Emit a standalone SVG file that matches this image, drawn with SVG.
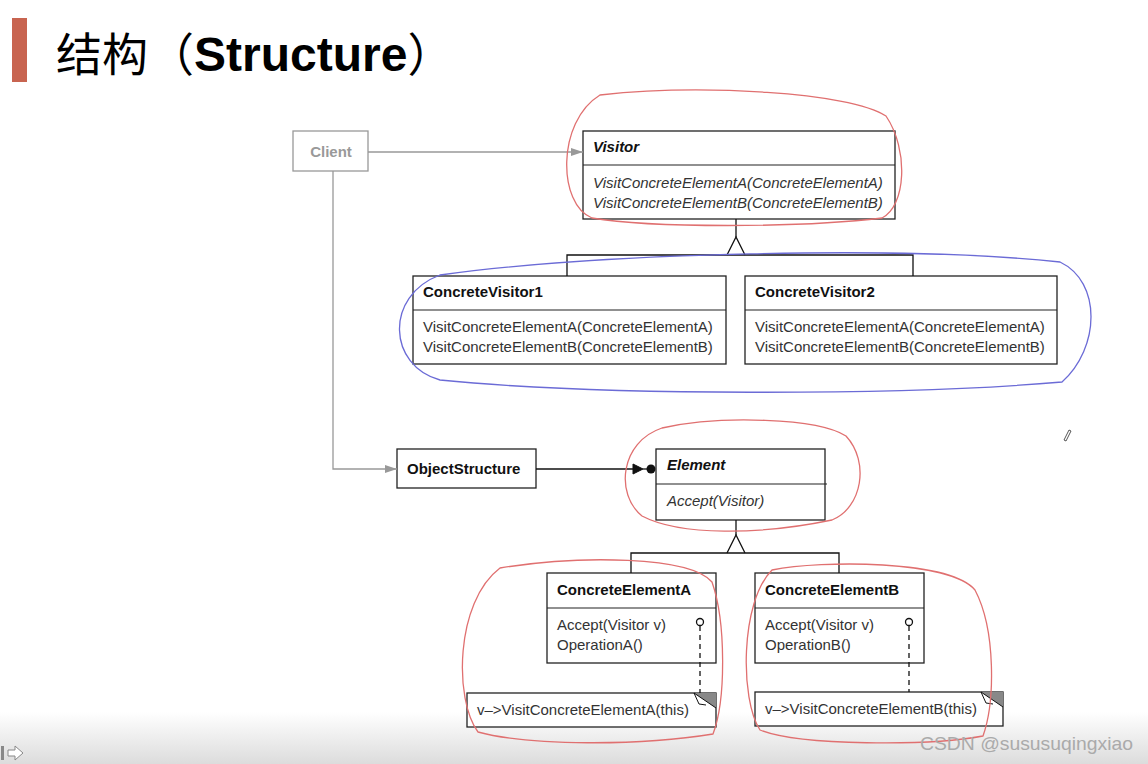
<svg xmlns="http://www.w3.org/2000/svg" width="1148" height="764" viewBox="0 0 1148 764">
<defs>
<linearGradient id="bot" x1="0" y1="0" x2="0" y2="1">
<stop offset="0" stop-color="#ffffff"/>
<stop offset="1" stop-color="#dcdcdc"/>
</linearGradient>
<marker id="grayArrow" markerWidth="12" markerHeight="10" refX="12" refY="5" orient="auto" markerUnits="userSpaceOnUse">
<path d="M0,1 L12,5 L0,9 Z" fill="#999"/>
</marker>
</defs>
<style>
.box{fill:#fff;stroke:#222;stroke-width:1.3}
.div{stroke:#222;stroke-width:1.2}
.t{font-family:"Liberation Sans",Arial,sans-serif;font-size:15px;fill:#333}
.b{font-weight:bold;fill:#111}
.i{font-style:italic}
.ln{stroke:#111;stroke-width:1.3;fill:none}
.gl{stroke:#999;stroke-width:1.3;fill:none}
.red{fill:none;stroke:#e07070;stroke-width:1.3}
.blue{fill:none;stroke:#6b6bd6;stroke-width:1.3}
</style>
<rect width="1148" height="764" fill="#fff"/>
<rect x="0" y="712" width="1148" height="52" fill="url(#bot)"/>

<g id="title">
<rect x="12" y="18" width="15" height="64" fill="#c86450"/>
<text x="56" y="71" font-size="46" fill="#000" font-family="'Noto Sans CJK SC',sans-serif">结构（<tspan font-family="'Liberation Sans',Arial,sans-serif" font-weight="bold" font-size="48">Structure</tspan>）</text>
</g>

<g id="client">
<rect x="293" y="131" width="75" height="40" fill="#fff" stroke="#999" stroke-width="1.3"/>
<text x="331" y="157" class="t" text-anchor="middle" style="fill:#999;font-weight:bold">Client</text>
</g>

<g id="visitor">
<rect class="box" x="583" y="131" width="312" height="88"/>
<line class="div" x1="583" y1="165" x2="895" y2="165"/>
<text class="t b i" x="593" y="152">Visitor</text>
<text class="t i" x="593" y="188">VisitConcreteElementA(ConcreteElementA)</text>
<text class="t i" x="593" y="208">VisitConcreteElementB(ConcreteElementB)</text>
</g>

<g id="concreteVisitor1">
<rect class="box" x="413" y="276" width="313" height="88"/>
<line class="div" x1="413" y1="310" x2="726" y2="310"/>
<text class="t b" x="423" y="297">ConcreteVisitor1</text>
<text class="t" x="423" y="332">VisitConcreteElementA(ConcreteElementA)</text>
<text class="t" x="423" y="352">VisitConcreteElementB(ConcreteElementB)</text>
</g>

<g id="concreteVisitor2">
<rect class="box" x="745" y="276" width="312" height="88"/>
<line class="div" x1="745" y1="310" x2="1057" y2="310"/>
<text class="t b" x="755" y="297">ConcreteVisitor2</text>
<text class="t" x="755" y="332">VisitConcreteElementA(ConcreteElementA)</text>
<text class="t" x="755" y="352">VisitConcreteElementB(ConcreteElementB)</text>
</g>

<g id="objectStructure">
<rect class="box" x="397" y="449" width="139" height="39"/>
<text class="t b" x="407" y="474">ObjectStructure</text>
</g>

<g id="element">
<rect class="box" x="656" y="449" width="169" height="71"/>
<line class="div" x1="656" y1="484" x2="827" y2="484"/>
<text class="t b i" x="667" y="470">Element</text>
<text class="t i" x="667" y="506">Accept(Visitor)</text>
</g>

<g id="concreteElementA">
<rect class="box" x="547" y="573" width="169" height="90"/>
<line class="div" x1="547" y1="608" x2="716" y2="608"/>
<text class="t b" x="557" y="595">ConcreteElementA</text>
<text class="t" x="557" y="630">Accept(Visitor v)</text>
<text class="t" x="557" y="650">OperationA()</text>
</g>

<g id="concreteElementB">
<rect class="box" x="755" y="573" width="169" height="90"/>
<line class="div" x1="755" y1="608" x2="924" y2="608"/>
<text class="t b" x="765" y="595">ConcreteElementB</text>
<text class="t" x="765" y="630">Accept(Visitor v)</text>
<text class="t" x="765" y="650">OperationB()</text>
</g>

<g id="noteA">
<rect class="box" x="467" y="693" width="249" height="34"/>
<path d="M694,693 L716,693 L716,708 Z" fill="#888"/>
<path d="M694,693 L716,708 M694,693 L699,704 L706,705" stroke="#111" stroke-width="1" fill="none"/>
<text class="t" x="477" y="715">v–&gt;VisitConcreteElementA(this)</text>
</g>

<g id="noteB">
<rect class="box" x="755" y="692" width="248" height="34"/>
<path d="M981,692 L1003,692 L1003,707 Z" fill="#888"/>
<path d="M981,692 L1003,707 M981,692 L986,703 L993,704" stroke="#111" stroke-width="1" fill="none"/>
<text class="t" x="765" y="714">v–&gt;VisitConcreteElementB(this)</text>
</g>

<g id="connectors">
<path class="gl" d="M368,152 H583" marker-end="url(#grayArrow)"/>
<path class="gl" d="M333,171 V469 H397" marker-end="url(#grayArrow)"/>
<path class="ln" d="M736,219 V237"/>
<path class="ln" d="M727,255 L736,237 L745,255"/>
<path class="ln" d="M567,276 V255 H913 V276"/>
<path class="ln" d="M536,469 H634"/>
<path d="M633,464 L643,469 L633,474 Z" fill="#111" stroke="#111"/>
<path class="ln" d="M643,469 H650"/>
<circle cx="651" cy="469" r="4.5" fill="#111"/>
<path class="ln" d="M736,520 V535"/>
<path class="ln" d="M727,553 L736,535 L745,553"/>
<path class="ln" d="M631,573 V553 H839 V573"/>
<circle cx="700" cy="622" r="3.5" fill="#fff" stroke="#111" stroke-width="1.3"/>
<path class="ln" d="M700,626 V693" stroke-dasharray="5,4"/>
<circle cx="909" cy="622" r="3.5" fill="#fff" stroke="#111" stroke-width="1.3"/>
<path class="ln" d="M909,626 V692" stroke-dasharray="5,4"/>
</g>

<g id="annotations">
<path class="red" d="M600,95 C700,84 850,92 886,116 C909,150 906,206 882,218 C800,228 650,228 592,218 C558,205 556,122 600,95 Z"/>
<path class="blue" d="M440,275 C600,253 900,245 1060,262 C1102,282 1100,348 1062,382 C900,396 600,396 440,380 C388,366 384,296 440,275 Z"/>
<path class="red" d="M662,428 C720,415 818,418 846,436 C870,462 862,508 832,520 C760,535 680,536 642,516 C615,494 620,442 662,428 Z"/>
<path class="red" d="M500,568 C580,555 690,556 712,582 C726,622 726,700 713,734 C640,746 530,746 478,732 C454,700 455,602 500,568 Z"/>
<path class="red" d="M772,570 C822,560 950,560 975,590 C996,630 995,702 983,736 C930,746 800,746 760,730 C740,700 740,602 772,570 Z"/>
</g>

<g id="ui">
<path d="M1066,441 L1071,431 L1069,430 L1064,440 Z" fill="none" stroke="#444" stroke-width="0.9"/>
<rect x="1" y="746" width="3" height="14" fill="#888"/>
<path d="M8,750 H15 V746 L23,753 L15,760 V756 H8 Z" fill="#fff" stroke="#888" stroke-width="1"/>
<text x="920" y="750" font-family="'Liberation Sans',Arial,sans-serif" font-size="19" fill="#aaa" textLength="213" lengthAdjust="spacingAndGlyphs">CSDN @sususuqingxiao</text>
</g>
</svg>
